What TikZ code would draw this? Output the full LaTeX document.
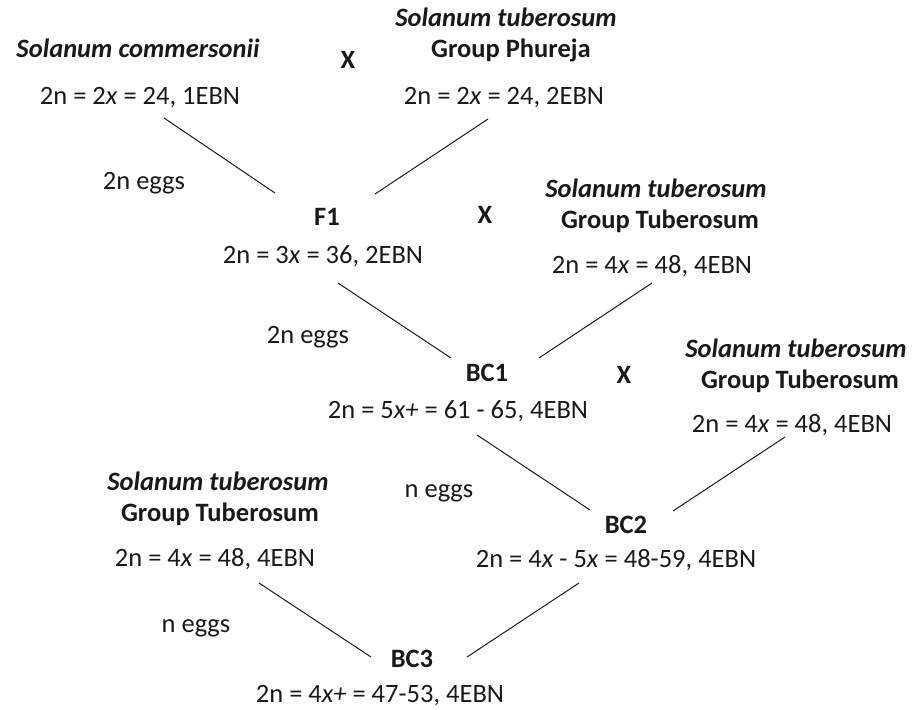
\documentclass[tikz,border=0pt]{standalone}
\usepackage{fontspec}
\setmainfont{Carlito}
\begin{document}
\begin{tikzpicture}[x=1pt,y=-1pt,
  lbl/.style={inner sep=0pt,anchor=base,text=black!90,font=\fontsize{26.5}{32}\selectfont},
  sp/.style={lbl,font=\fontsize{26.5}{32}\selectfont\bfseries\itshape},
  grp/.style={lbl,font=\fontsize{26.5}{32}\selectfont\bfseries},
  cross/.style={lbl,font=\fontsize{26.5}{32}\selectfont\bfseries},
  link/.style={draw=black!90,line width=1pt}]
\useasboundingbox (0,0) rectangle (917,709);
% top parents
\node[sp] (comm) at (138,57) {Solanum commersonii};
\node[lbl] (commc) at (140,104) {2n = 2\textit{x} = 24, 1EBN};
\node[cross] (x1) at (348,68) {X};
\node[sp] (phu1) at (506,27) {Solanum tuberosum};
\node[grp] (phu2) at (511,58) {Group Phureja};
\node[lbl] (phuc) at (504,104) {2n = 2\textit{x} = 24, 2EBN};
\node[lbl] (e1) at (144,189) {2n eggs};
% F1
\node[grp] (f1) at (327,225) {F1};
\node[lbl] (f1c) at (323,263) {2n = 3\textit{x} = 36, 2EBN};
\node[cross] (x2) at (485,223) {X};
\node[sp] (tub1a) at (656,197) {Solanum tuberosum};
\node[grp] (tub1b) at (660,228) {Group Tuberosum};
\node[lbl] (tub1c) at (652,273) {2n = 4\textit{x} = 48, 4EBN};
\node[lbl] (e2) at (308,343) {2n eggs};
% BC1
\node[grp] (bc1) at (487,381) {BC1};
\node[lbl] (bc1c) at (458,418) {2n = 5\textit{x+} = 61 - 65, 4EBN};
\node[cross] (x3) at (624,383) {X};
\node[sp] (tub2a) at (796,357) {Solanum tuberosum};
\node[grp] (tub2b) at (800,388) {Group Tuberosum};
\node[lbl] (tub2c) at (792,432) {2n = 4\textit{x} = 48, 4EBN};
\node[lbl] (e3) at (439,497) {n eggs};
% BC2 and left parent
\node[sp] (tub3a) at (218,490) {Solanum tuberosum};
\node[grp] (tub3b) at (220,521) {Group Tuberosum};
\node[lbl] (tub3c) at (215,566) {2n = 4\textit{x} = 48, 4EBN};
\node[grp] (bc2) at (626,533) {BC2};
\node[lbl] (bc2c) at (616,567) {2n = 4\textit{x} - 5\textit{x} = 48-59, 4EBN};
\node[lbl] (e4) at (196,632) {n eggs};
% BC3
\node[grp] (bc3) at (412,667) {BC3};
\node[lbl] (bc3c) at (380,702) {2n = 4\textit{x+} = 47-53, 4EBN};
% connector ends
\coordinate (a1) at (164,118); \coordinate (a2) at (275,193);
\coordinate (b1) at (488,119); \coordinate (b2) at (375,194);
\coordinate (c1) at (338,283); \coordinate (c2) at (451,358);
\coordinate (d1) at (652,283); \coordinate (d2) at (539,358);
\coordinate (g1) at (477,435); \coordinate (g2) at (590,510);
\coordinate (h1) at (785,437); \coordinate (h2) at (673,511);
\coordinate (i1) at (259,583); \coordinate (i2) at (371,657);
\coordinate (j1) at (579,583); \coordinate (j2) at (467,657);
\draw[link] (a1) -- (a2);
\draw[link] (b1) -- (b2);
\draw[link] (c1) -- (c2);
\draw[link] (d1) -- (d2);
\draw[link] (g1) -- (g2);
\draw[link] (h1) -- (h2);
\draw[link] (i1) -- (i2);
\draw[link] (j1) -- (j2);
\end{tikzpicture}
\end{document}
